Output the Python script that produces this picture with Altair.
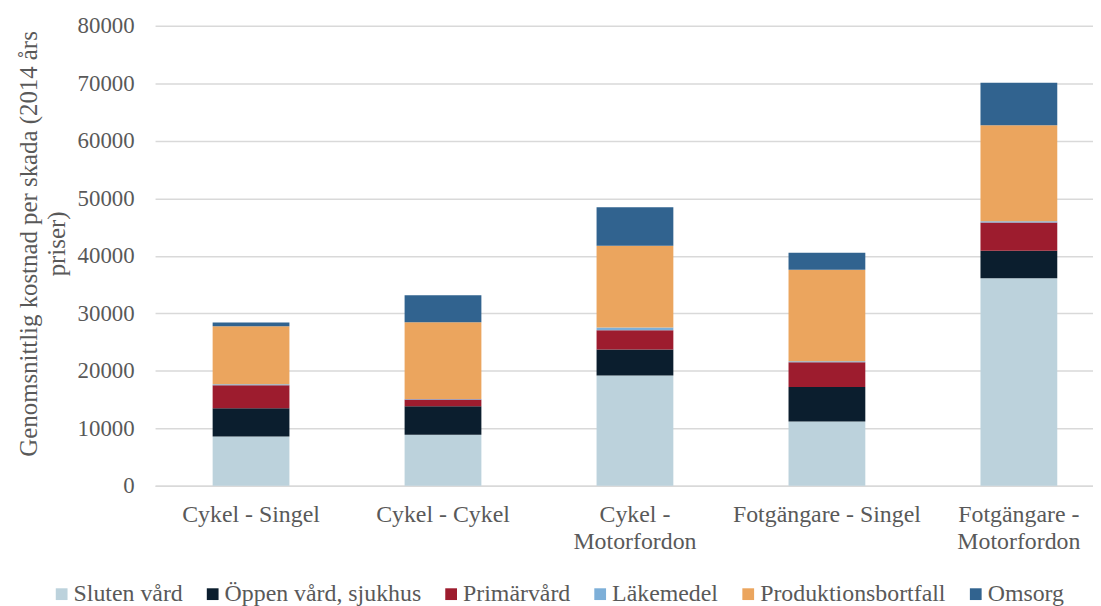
import altair as alt
import pandas as pd

categories = ["Cykel - Singel", "Cykel - Cykel", "Cykel - Motorfordon",
              "Fotgängare - Singel", "Fotgängare - Motorfordon"]
series = ["Sluten vård", "Öppen vård, sjukhus", "Primärvård",
          "Läkemedel", "Produktionsbortfall", "Omsorg"]
colors = ["#BCD2DC", "#0B1E2E", "#9D1C2E", "#7DAFD8", "#EBA55E", "#31638F"]

sluten = [8600, 8900, 19200, 11200, 36100]
oppen = [4900, 4950, 4500, 6000, 4800]
primar = [4000, 1150, 3350, 4300, 4900]
lakemedel = [150, 100, 500, 150, 200]
produktion = [10100, 13350, 14200, 15950, 16700]
omsorg = [650, 4700, 6700, 2950, 7400]

values = [sluten, oppen, primar, lakemedel, produktion, omsorg]
rows = []
for si, (s, vals) in enumerate(zip(series, values)):
    for c, v in zip(categories, vals):
        rows.append({"kategori": c, "serie": s, "varde": v, "idx": si})
df = pd.DataFrame(rows)

FONT = "Liberation Serif"
GRAY = "#595959"

chart = alt.Chart(df).mark_bar().encode(
    x=alt.X("kategori:N", sort=categories,
            scale=alt.Scale(range=[0, 966], paddingInner=0.6, paddingOuter=0.3),
            axis=alt.Axis(title=None, labelAngle=0, ticks=False, labelPadding=17,
                          domainColor="#D9D9D9", domainWidth=1.5, labelLimit=0,
                          labelFont=FONT, labelFontSize=24, labelColor=GRAY,
                          labelLineHeight=27, labelBaseline="top",
                          labelExpr="indexof(datum.value, 'Motorfordon') > 0 ? [replace(datum.value, ' Motorfordon', ''), 'Motorfordon'] : datum.value")),
    y=alt.Y("varde:Q", stack="zero",
            scale=alt.Scale(domain=[0, 80000], nice=False),
            axis=alt.Axis(title=["Genomsnittlig kostnad per skada (2014 års", "priser)"],
                          values=[0, 10000, 20000, 30000, 40000, 50000, 60000, 70000, 80000],
                          format="d", ticks=False, domain=False, labelPadding=21,
                          gridColor="#D9D9D9", gridWidth=1.5,
                          labelFont=FONT, labelFontSize=23, labelColor=GRAY,
                          titleFont=FONT, titleFontSize=25, titleColor=GRAY,
                          titleFontWeight="normal", titleLineHeight=28, titlePadding=8,
                          titleY=219)),
    color=alt.Color("serie:N", sort=series,
                    scale=alt.Scale(domain=series, range=colors),
                    legend=alt.Legend(title=None, orient="none", direction="horizontal",
                                      legendX=-106, legendY=560, columns=6,
                                      symbolType="square", symbolSize=140,
                                      symbolStrokeWidth=0, symbolOpacity=1, labelLimit=0,
                                      labelFont=FONT, labelFontSize=24, labelColor=GRAY,
                                      columnPadding=18, labelOffset=0, padding=0)),
    order=alt.Order("idx:Q", sort="ascending"),
).properties(
    width=944, height=463,
    autosize=alt.AutoSizeParams(type="none"),
    padding={"left": 148, "top": 16, "right": 0, "bottom": 125},
).configure_view(stroke=None)

chart.save("out.html", embed_options={"renderer": "svg", "actions": False})
